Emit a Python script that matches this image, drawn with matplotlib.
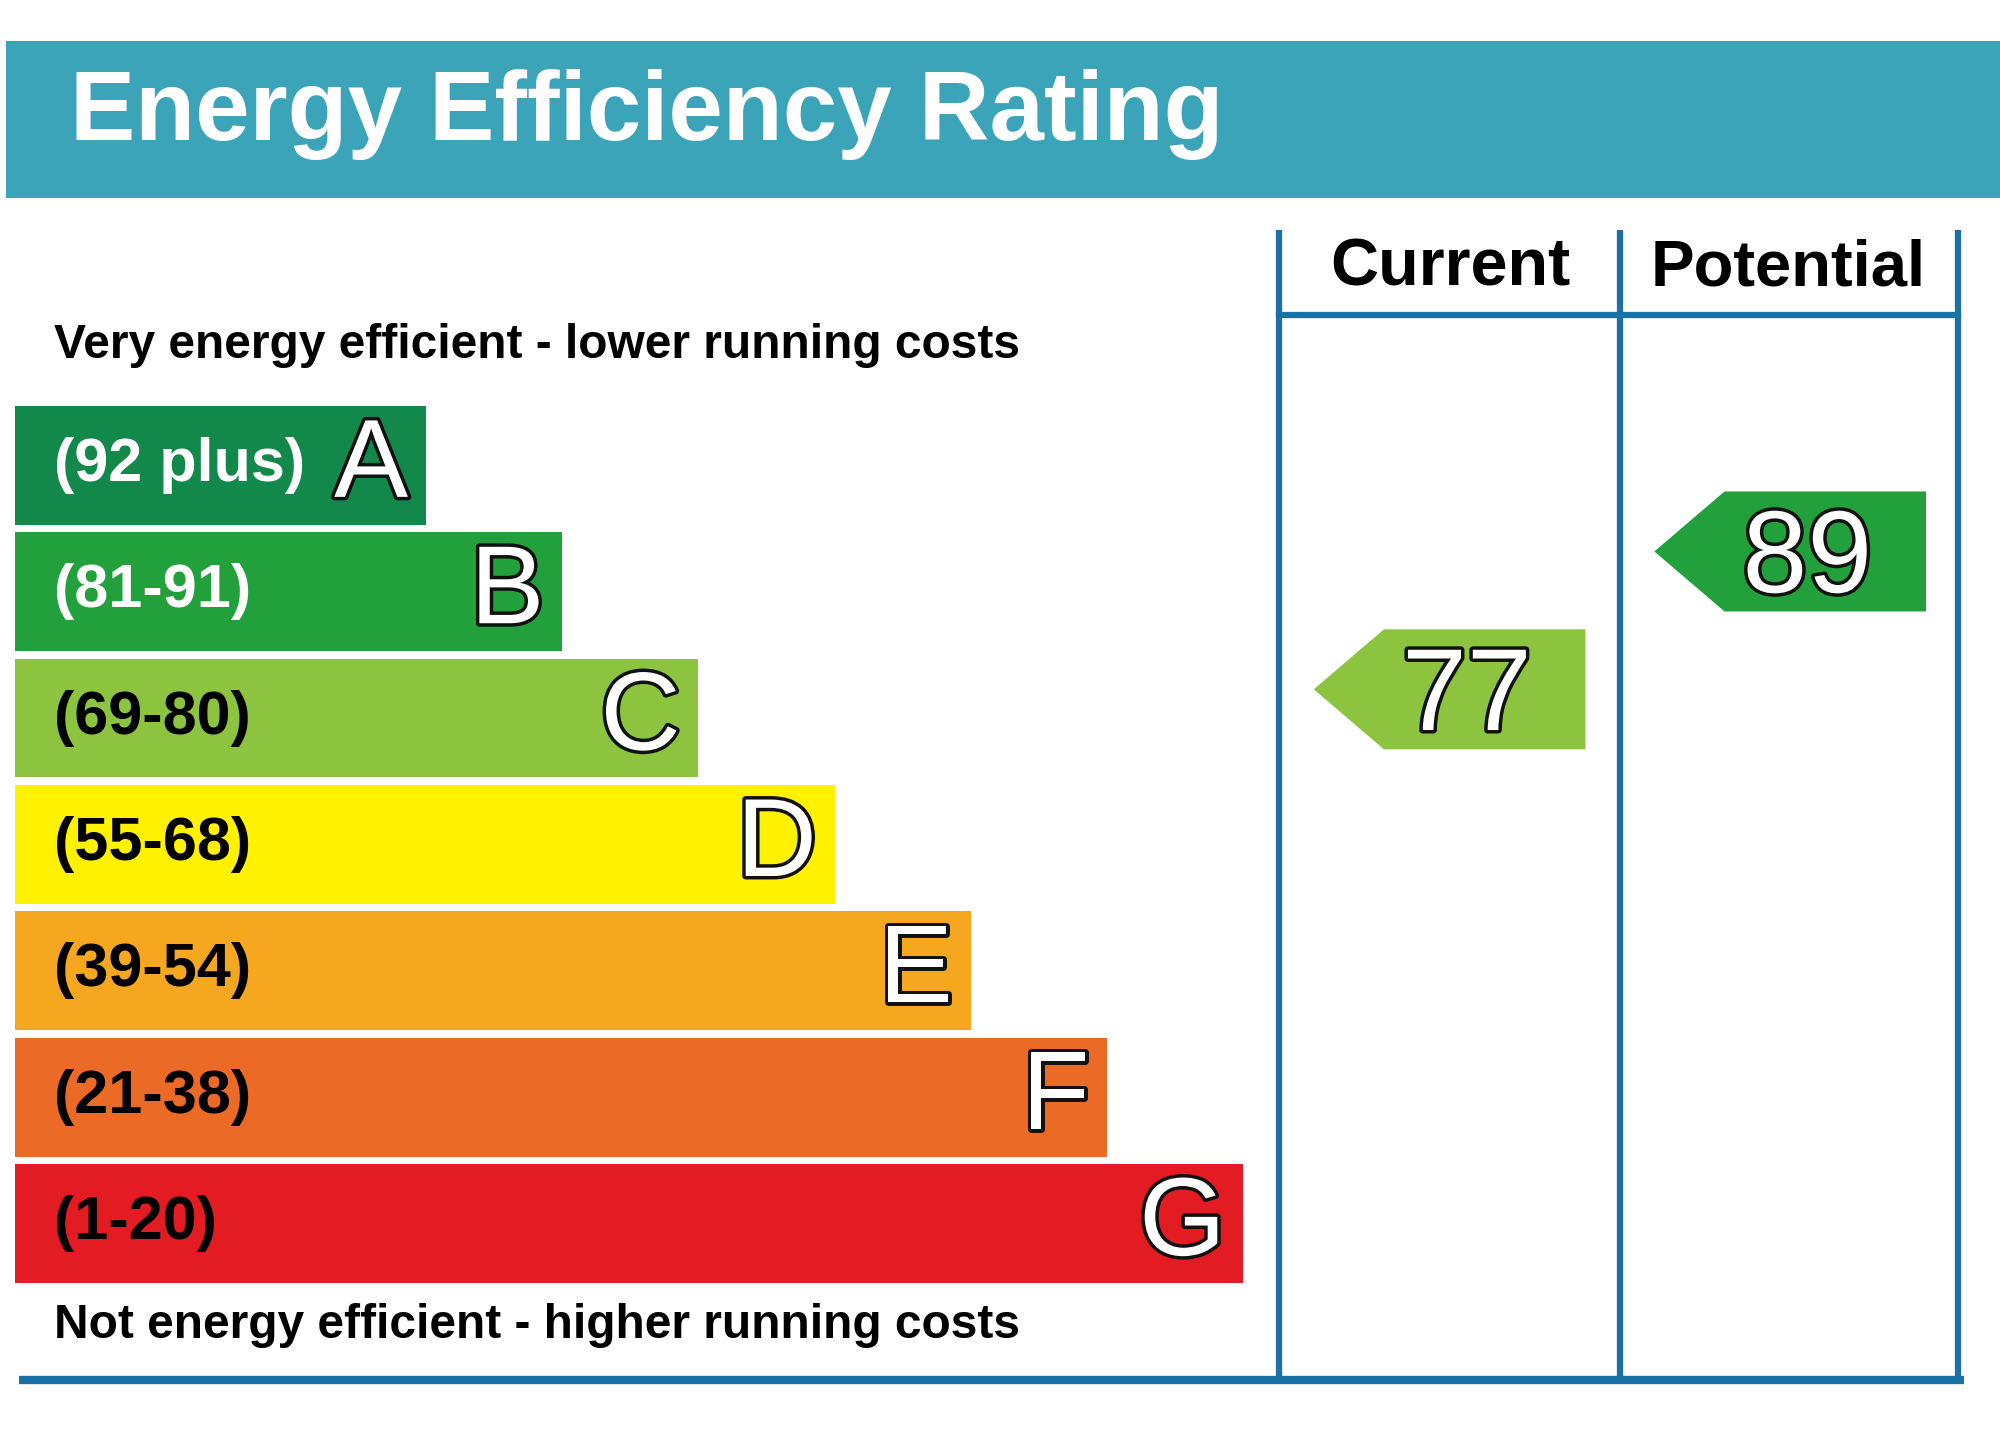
import matplotlib
matplotlib.use("Agg")
import matplotlib.pyplot as plt
from matplotlib.patches import Rectangle, Polygon
import matplotlib.patheffects as pe

plt.rcParams['font.family'] = ['Liberation Sans', 'DejaVu Sans']

# band data
bands = ["A", "B", "C", "D", "E", "F", "G"]
ranges = ["(92 plus)", "(81-91)", "(69-80)", "(55-68)", "(39-54)", "(21-38)", "(1-20)"]
band_colors = ["#12894a", "#22a03b", "#8dc43f", "#fff100", "#f5a81f", "#ea6a26", "#e31b23"]
range_text_colors = ["white", "white", "black", "black", "black", "black", "black"]

# ratings
current = 77
potential = 89
current_band = "C"
potential_band = "B"

W, H = 1568, 1121
fig = plt.figure(figsize=(20, 14.31), dpi=100)
ax = fig.add_axes([0, 0, 1, 1])
ax.set_xlim(0, W)
ax.set_ylim(H, 0)
ax.axis("off")

blue = "#1a71a6"
teal = "#3ba4b9"

# header
ax.add_patch(Rectangle((5, 32), W - 5, 123, color=teal, lw=0))
ax.text(55, 90, "Energy Efficiency Rating", color="white", fontsize=70.5,
        fontweight="bold", ha="left", va="center")

# table lines
for x in [1003, 1270, 1535]:
    ax.plot([x, x], [180, 1082], color=blue, lw=4.5, solid_capstyle="butt")
ax.plot([1003, 1535], [247, 247], color=blue, lw=4.5)
ax.plot([15, 1540], [1081, 1081], color=blue, lw=6, solid_capstyle="butt")

ax.text(1137, 210, "Current", fontsize=48, fontweight="bold", ha="center", va="center")
ax.text(1402, 210, "Potential", fontsize=47, fontweight="bold", ha="center", va="center")

ax.text(42, 271, "Very energy efficient - lower running costs", fontsize=34.5,
        fontweight="bold", ha="left", va="center")
ax.text(42, 1038, "Not energy efficient - higher running costs", fontsize=34.5,
        fontweight="bold", ha="left", va="center")

outline = [pe.withStroke(linewidth=5, foreground="#111111")]

# bars
top0, pitch, bh = 318, 99, 93
x0, w0, dw = 12, 322, 106.8
for i, b in enumerate(bands):
    y = top0 + i * pitch
    w = w0 + i * dw
    ax.add_patch(Rectangle((x0, y), w, bh, color=band_colors[i], lw=0))
    ax.text(42, y + bh / 2, ranges[i], color=range_text_colors[i], fontsize=44,
            fontweight="bold", ha="left", va="center")
    ax.text(x0 + w - 14, y + bh / 2 + 2, b, color="white", fontsize=80,
            ha="right", va="center", path_effects=outline)


def rating_y(v):
    # vertical position of the rating arrow in the column
    return 540 - (v - 77) * 9


def arrow(x_tip, x_right, v, band):
    yc = rating_y(v)
    half = 47
    col = band_colors[bands.index(band)]
    pts = [(x_tip, yc), (x_tip + 55, yc - half), (x_right, yc - half),
           (x_right, yc + half), (x_tip + 55, yc + half)]
    ax.add_patch(Polygon(pts, closed=True, color=col, lw=0))
    ax.text((x_tip + 55 + x_right) / 2 - 14, yc + 8, str(v), color="white",
            fontsize=84, ha="center", va="center", path_effects=outline)


arrow(1030, 1243, current, current_band)
arrow(1297, 1510, potential, potential_band)

fig.savefig("out.png", dpi=100)
